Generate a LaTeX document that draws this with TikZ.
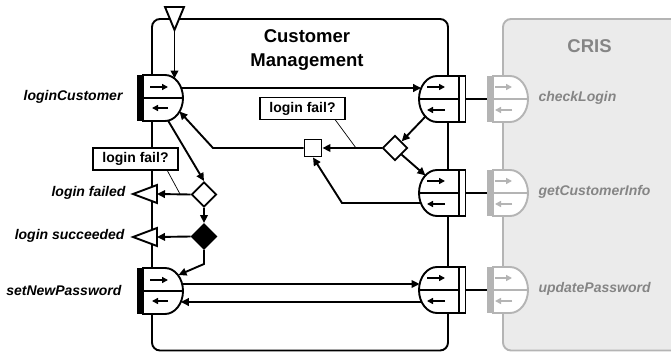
\documentclass[tikz,border=0pt]{standalone}
\usepackage{fontspec}
\setmainfont{Liberation Sans}
\usetikzlibrary{arrows.meta,shapes.geometric,calc}
\definecolor{crisfill}{HTML}{EBEBEB}
\definecolor{crisline}{HTML}{B4B4B4}
\definecolor{cristext}{HTML}{858585}
\newcommand\portL[2]{%
\begin{scope}[shift={(0,-#2)}]
 \fill (137,23) rectangle (143,-23);
 \draw[ln,fill=white] (143,23) -- (165,23) arc[start angle=90,end angle=-90,x radius=18pt,y radius=23pt] -- (143,-23) -- cycle;
 \draw[ln] (143,0) -- (183,0);
 \draw[small] (150,11) -- (168,11);
 \draw[small] (168,-10) -- (152,-10);
 \coordinate (#1) at (165,0);
\end{scope}}
\newcommand\portR[2]{%
\begin{scope}[shift={(0,-#2)}]
 \draw[ln,fill=white] (459,23) -- (437,23) arc[start angle=90,end angle=270,x radius=18pt,y radius=23pt] -- (459,-23) -- cycle;
 \draw[ln] (419,0) -- (459,0);
 \draw[ln,fill=white] (459,23) rectangle (465.5,-23);
 \draw[small] (427,12) -- (445,12);
 \draw[small] (445,-11) -- (427,-11);
 \coordinate (#1) at (437,0);
 \coordinate (#1-bar) at (465.5,0);
\end{scope}}
\newcommand\portC[2]{%
\begin{scope}[shift={(0,-#2)},crisline]
 \fill (487,23) rectangle (493,-23);
 \draw[ln,fill=white] (493,23) -- (510,23) arc[start angle=90,end angle=-90,x radius=18pt,y radius=23pt] -- (493,-23) -- cycle;
 \draw[ln] (493,0) -- (528,0);
 \draw[small] (495,12) -- (512,12);
 \draw[small] (512,-11) -- (495,-11);
 \coordinate (#1) at (487,0);
\end{scope}}
\begin{document}
\begin{tikzpicture}[x=1pt,y=1pt,
  ln/.style={line width=1.9pt},
  arr/.style={ln,-{Triangle[length=8pt,width=7.5pt]}},
  small/.style={line width=1.5pt,-{Triangle[length=6pt,width=6pt]}},
  lbl/.style={font=\fontsize{14}{16}\selectfont\bfseries\itshape},
  crislbl/.style={lbl,text=cristext},
  gate/.style={draw,ln,fill=white,diamond,inner sep=0pt,minimum size=25pt},
  note/.style={draw,ln,fill=white,font=\fontsize{14}{16}\selectfont\bfseries,minimum width=85pt,minimum height=22pt,inner sep=0pt},
  thinline/.style={line width=0.7pt}]
\useasboundingbox (0,0) rectangle (671,-353);
\clip (0,0) rectangle (671,-353);
% boxes
\draw[crisline,fill=crisfill,line width=1.9pt,rounded corners=8pt] (503,-19) rectangle (700,-350.5);
\draw[ln,rounded corners=8pt] (152,-19) rectangle (448,-350.5);
\node[font=\fontsize{18.5}{24}\selectfont\bfseries,align=center] (title) at (307,-50) {Customer\\Management};
\node[font=\fontsize{18.5}{24}\selectfont\bfseries,text=cristext] (cris) at (589.5,-46) {CRIS};
% ports
\portL{lc}{98}
\portL{snp}{291}
\portR{cl}{99}
\portR{gci}{193}
\portR{up}{290}
\portC{ccl}{99}
\portC{cgci}{193}
\portC{cup}{290}
\draw[ln] (cl-bar) -- (ccl);
\draw[ln] (gci-bar) -- (cgci);
\draw[ln] (up-bar) -- (cup);
% labels
\node[lbl,anchor=east] (llc) at (126,-97) {loginCustomer};
\node[lbl,anchor=east] (llf) at (129,-193) {login failed};
\node[lbl,anchor=east] (lls) at (128,-236) {login succeeded};
\node[lbl,anchor=east] (lsnp) at (125,-290) {setNewPassword};
\node[crislbl,anchor=west] (lcl) at (535,-98) {checkLogin};
\node[crislbl,anchor=west] (lgci) at (535,-192) {getCustomerInfo};
\node[crislbl,anchor=west] (lup) at (535,-289) {updatePassword};
% start and end events
\draw[ln,fill=white] (165,-7) -- (184,-7) -- (174.5,-30) -- cycle;
\coordinate (st) at (174.5,-30);
\draw[ln,fill=white] (157,-185) -- (133,-194) -- (157,-203) -- cycle;
\coordinate (lf) at (157,-194);
\draw[ln,fill=white] (157,-228) -- (133,-237) -- (157,-246) -- cycle;
\coordinate (ls) at (157,-237);
% gateways
\node[gate] (d1) at (395,-148) {};
\node[gate] (d2) at (204,-194.5) {};
\node[gate,fill=black] (d3) at (204,-236.5) {};
\node[draw,ln,fill=white,minimum size=17pt,inner sep=0pt] (sq) at (313,-148) {};
% port anchor coordinates
\coordinate (lcTop) at (174.5,-78.5);
\coordinate (lcOut) at (181.2,-88);
\coordinate (clIn) at (421.2,-88);
\coordinate (clRet) at (425.4,-116.6);
\coordinate (gciIn) at (425.4,-175.4);
\coordinate (gciRet) at (420.8,-203);
\coordinate (lcIn) at (179.5,-111.5);
\coordinate (lcRet) at (168,-120.5);
\coordinate (snpIn) at (178.5,-275);
\coordinate (snpOut) at (182.1,-284);
\coordinate (upIn) at (419.6,-284);
\coordinate (upRet) at (421.6,-302);
\coordinate (snpRet) at (180.8,-302);
% connectors
\draw[arr] (st) -- (lcTop);
\draw[arr] (lcOut) -- (clIn);
\draw[arr] (clRet) -- (d1.north east);
\draw[arr] (d1.west) -- (sq.east);
\draw[arr] (d1.south east) -- (gciIn);
\draw[arr] (sq.west) -- (213,-148) -- (lcIn);
\draw[arr] (gciRet) -- (342,-203) -- (sq.south);
\draw[arr] (lcRet) -- (d2.north);
\draw[arr] (d2.west) -- (lf);
\draw[arr] (d2.south) -- (d3.north);
\draw[arr] (d3.west) -- (ls);
\draw[arr] (d3.south) -- (204,-264) -- (snpIn);
\draw[arr] (snpOut) -- (upIn);
\draw[arr] (upRet) -- (snpRet);
% notes
\node[note] (n1) at (135.5,-159) {login fail?};
\node[note] (n2) at (302.5,-108.5) {login fail?};
\coordinate (n1p) at (180,-194);
\coordinate (n2p) at (356,-148);
\draw[thinline] (167,-170) -- (n1p);
\draw[thinline] (335,-119.5) -- (n2p);
\end{tikzpicture}
\end{document}
